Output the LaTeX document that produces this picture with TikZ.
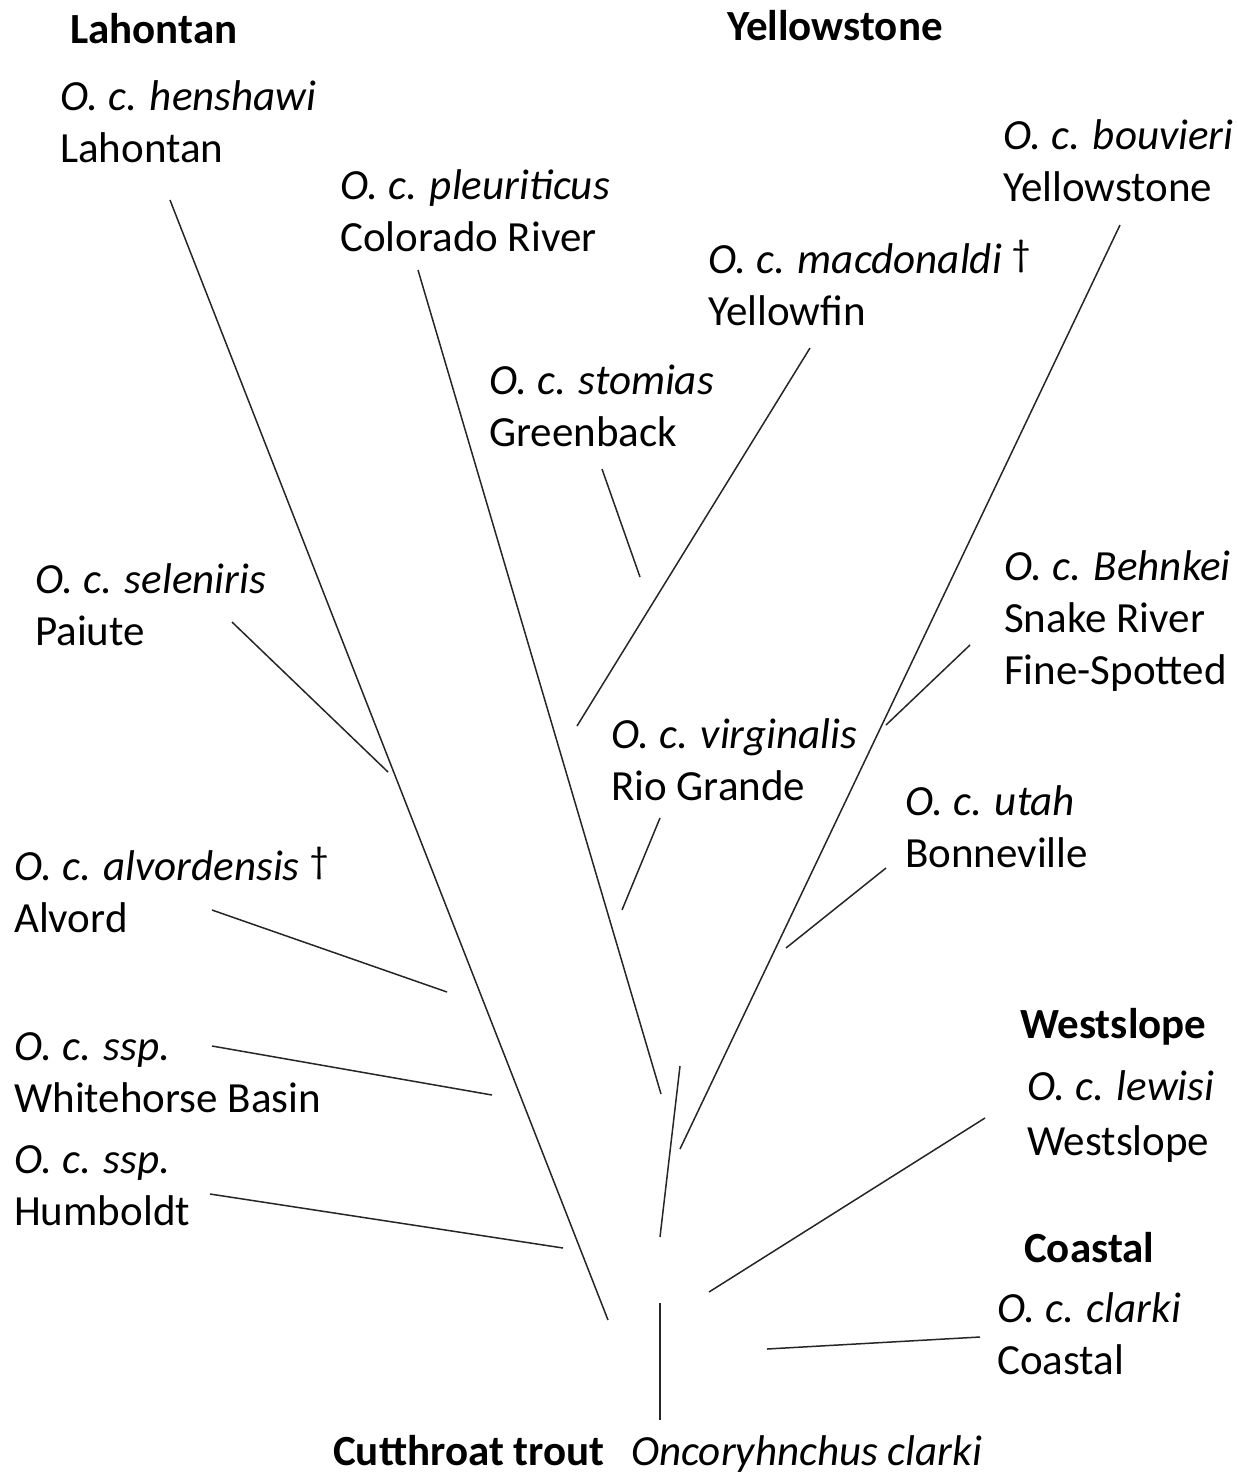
\documentclass[tikz,border=0pt]{standalone}
\usepackage{fontspec}
\setmainfont{Carlito}
\newcommand{\mydag}{\ {\fontsize{38}{38}\selectfont\raisebox{7pt}{†}}}
\begin{document}
\begin{tikzpicture}[x=1pt,y=-1pt,
  lab/.style={anchor=base west,inner sep=0pt,font=\fontsize{43}{52}\selectfont},
  head/.style={lab,font=\fontsize{43}{52}\selectfont\bfseries},
  br/.style={line width=1.5pt,draw=black!85}]
\useasboundingbox (0,0) rectangle (1238,1476);
% headings
\node[head] (hLah) at (70,43) {Lahontan};
\node[head] (hYel) at (727,40) {Yellowstone};
\node[head] (hWes) at (1020,1038) {Westslope};
\node[head] (hCoa) at (1024,1262) {Coastal};
% labels
\node[lab] (a1) at (60,110) {\textit{O. c. henshawi}};
\node[lab] (a2) at (60,162) {Lahontan};
\node[lab] (b1) at (340,199) {\textit{O. c. pleuriticus}};
\node[lab] (b2) at (340,251) {Colorado River};
\node[lab] (c1) at (1003,149) {\textit{O. c. bouvieri}};
\node[lab] (c2) at (1003,201) {Yellowstone};
\node[lab] (d1) at (708,273) {\textit{O. c. macdonaldi}\mydag};
\node[lab] (d2) at (708,325) {Yellowfin};
\node[lab] (e1) at (489,394) {\textit{O. c. stomias}};
\node[lab] (e2) at (489,446) {Greenback};
\node[lab] (f1) at (35,593) {\textit{O. c. seleniris}};
\node[lab] (f2) at (35,645) {Paiute};
\node[lab] (g1) at (1004,580) {\textit{O. c. Behnkei}};
\node[lab] (g2) at (1004,632) {Snake River};
\node[lab] (g3) at (1004,684) {Fine-Spotted};
\node[lab] (h1) at (611,748) {\textit{O. c. virginalis}};
\node[lab] (h2) at (611,800) {Rio Grande};
\node[lab] (i1) at (905,815) {\textit{O. c. utah}};
\node[lab] (i2) at (905,867) {Bonneville};
\node[lab] (j1) at (14,880) {\textit{O. c. alvordensis}\mydag};
\node[lab] (j2) at (14,932) {Alvord};
\node[lab] (k1) at (14,1060) {\textit{O. c. ssp.}};
\node[lab] (k2) at (14,1112) {Whitehorse Basin};
\node[lab] (l1) at (1027,1100) {\textit{O. c. lewisi}};
\node[lab] (l2) at (1027,1155) {Westslope};
\node[lab] (m1) at (14,1173) {\textit{O. c. ssp.}};
\node[lab] (m2) at (14,1225) {Humboldt};
\node[lab] (n1) at (997,1322) {\textit{O. c. clarki}};
\node[lab] (n2) at (997,1374) {Coastal};
\node[head] (root) at (333,1465) {Cutthroat trout};
\node[lab] (rootsp) at (631,1465) {\textit{Oncoryhnchus clarki}};
% branch end points
\coordinate (L1a) at (170,200);  \coordinate (L1b) at (608,1320);
\coordinate (L2a) at (418,270);  \coordinate (L2b) at (661,1094);
\coordinate (L3a) at (1120,225); \coordinate (L3b) at (680,1149);
\coordinate (L4a) at (810,348);  \coordinate (L4b) at (577,726);
\coordinate (L5a) at (602,469);  \coordinate (L5b) at (640,577);
\coordinate (L6a) at (232,622);  \coordinate (L6b) at (388,772);
\coordinate (L7a) at (970,645);  \coordinate (L7b) at (886,725);
\coordinate (L8a) at (660,818);  \coordinate (L8b) at (622,910);
\coordinate (L9a) at (886,868);  \coordinate (L9b) at (786,948);
\coordinate (L10a) at (212,910); \coordinate (L10b) at (447,992);
\coordinate (L11a) at (212,1046);\coordinate (L11b) at (492,1095);
\coordinate (L12a) at (210,1194);\coordinate (L12b) at (563,1248);
\coordinate (L13a) at (680,1066);\coordinate (L13b) at (660,1237);
\coordinate (L14a) at (985,1118);\coordinate (L14b) at (709,1292);
\coordinate (L15a) at (980,1337);\coordinate (L15b) at (767,1349);
\coordinate (L16a) at (660,1303);\coordinate (L16b) at (660,1420);
\foreach \i in {1,...,16}{\draw[br] (L\i a) -- (L\i b);}
\end{tikzpicture}
\end{document}
